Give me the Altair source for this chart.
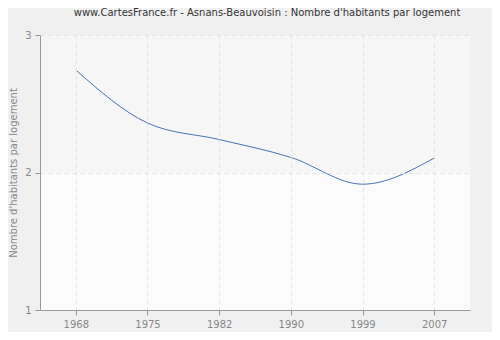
import altair as alt
import pandas as pd

years = ["1968", "1975", "1982", "1990", "1999", "2007"]
values = [2.745, 2.36, 2.24, 2.11, 1.915, 2.105]
y_ticks = [1, 2, 3]

df = pd.DataFrame({"year": years, "value": values})

FONT = "DejaVu Sans"

x_enc = alt.X(
    "year:O", sort=years,
    scale=alt.Scale(type="point", padding=0.5),
    axis=alt.Axis(title=None, labelAngle=0, grid=True, gridDash=[4, 4],
                  gridColor="#e2e2e2", domainColor="#999999", tickColor="#999999",
                  tickSize=5, labelPadding=4, labelColor="#888888",
                  labelFont=FONT, labelFontSize=10, zindex=1),
)
y_scale = alt.Scale(domain=[1, 3], nice=False, zero=False)
y_axis = alt.Axis(title="Nombre d'habitants par logement", values=y_ticks,
                  labelExpr="toString(round(datum.value))",
                  labelOverlap=False, grid=True, gridDash=[4, 4], gridColor="#e2e2e2",
                  domainColor="#999999", tickColor="#999999", tickSize=5,
                  labelPadding=4, labelColor="#888888", labelFont=FONT,
                  labelFontSize=10, titleColor="#888888", titleFont=FONT,
                  titleFontSize=10, titleFontWeight="normal", titlePadding=6,
                  zindex=1)

top_bg = alt.Chart(df).mark_rect(color="#f6f6f6").encode(
    y=alt.Y(datum=3, scale=y_scale, axis=y_axis), y2=alt.datum(2)
)
bot_bg = alt.Chart(df).mark_rect(color="#fbfbfb").encode(
    y=alt.Y(datum=2, scale=y_scale, axis=y_axis), y2=alt.datum(1)
)

line = alt.Chart(df).mark_line(
    color="#4a72b0", strokeWidth=1, interpolate="monotone"
).encode(
    x=x_enc,
    y=alt.Y("value:Q", scale=y_scale, axis=y_axis),
)

chart = alt.layer(top_bg, bot_bg, line).properties(
    width=430, height=275,
    autosize=alt.AutoSizeParams(type="none"),
    padding={"left": 32, "top": 27, "right": 22, "bottom": 22},
    background="#f0f0f0",
    title=alt.TitleParams(
        "www.CartesFrance.fr - Asnans-Beauvoisin : Nombre d'habitants par logement",
        font=FONT, fontSize=10, fontWeight="normal", color="#333333",
        offset=12, dx=12, anchor="middle",
    ),
).configure_view(stroke=None)

chart.save("out.html", embed_options={"renderer": "svg", "actions": False})
